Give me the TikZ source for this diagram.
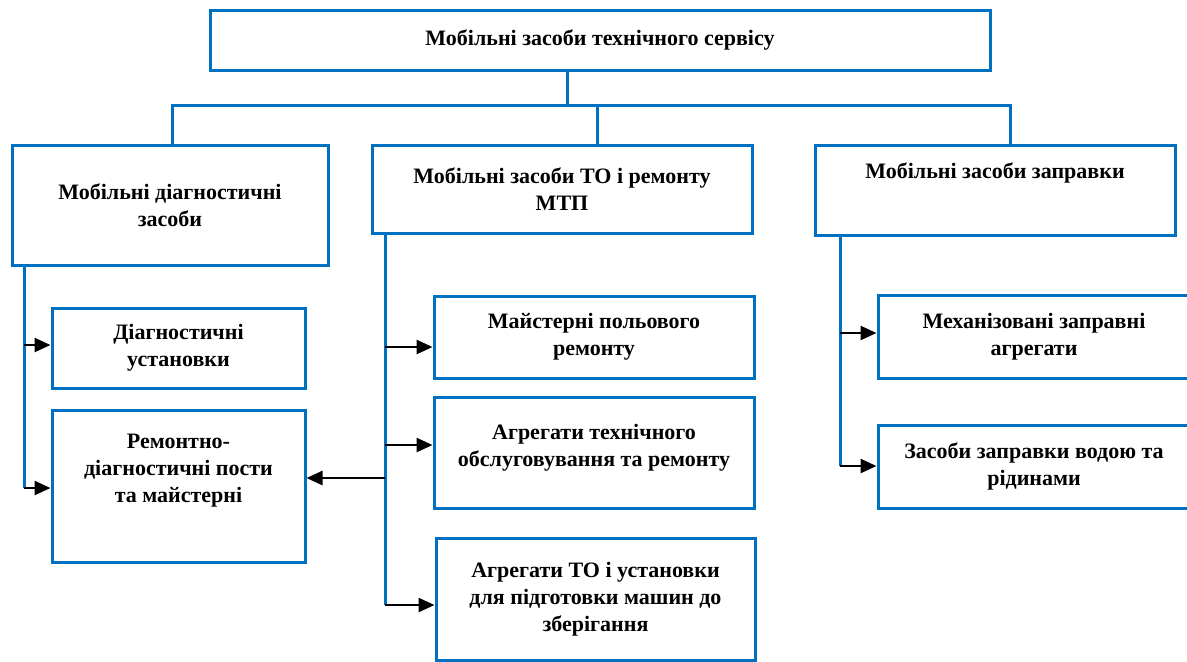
\documentclass[tikz,border=0pt]{standalone}
\usepackage{fontspec}
\setmainfont{Liberation Serif}
\usepackage{xcolor}
\usepackage{tikz}
\usetikzlibrary{arrows.meta,positioning,calc}
\definecolor{boxblue}{RGB}{0,112,192}

\begin{document}
\begin{tikzpicture}[x=0.5pt,y=-0.5pt,font=\fontsize{11}{13.5}\selectfont\bfseries,
   box/.style={draw=boxblue,line width=1.5pt,fill=white,inner sep=0pt,align=center},
   tree/.style={draw=boxblue,line width=1.5pt},
   arr/.style={draw=black,line width=1.3pt,-{Triangle[length=8pt,width=7pt]}}]
  \useasboundingbox (0,0) rectangle (1187,661);
  % top level
  \node[box,minimum width=390pt,minimum height=30pt] (top) at (600,40)
       {Мобільні засоби технічного сервісу};
  % second level
  \node[box,minimum width=158pt,minimum height=60pt] (diag) at (170,205)
       {Мобільні діагностичні\\засоби};
  \node[box,minimum width=190pt,minimum height=44pt] (rem) at (562,189)
       {Мобільні засоби ТО і ремонту\\МТП};
  \node[box,minimum width=180pt,minimum height=45pt] (zapr) at (995,190)
       {Мобільні засоби заправки\\[6pt]\mbox{}};
  % left column
  \node[box,minimum width=126.5pt,minimum height=40pt] (ust) at (178.5,348)
       {Діагностичні\\установки};
  \node[box,minimum width=126.5pt,minimum height=76pt] (posty) at (178.5,486)
       {Ремонтно-\\діагностичні пости\\та майстерні\\[4pt]\mbox{}};
  % middle column
  \node[box,minimum width=160pt,minimum height=41pt] (maist) at (594,337)
       {Майстерні польового\\ремонту};
  \node[box,minimum width=160pt,minimum height=55.5pt] (agr) at (594,452.5)
       {Агрегати технічного\\обслуговування та ремонту\\[-6.5pt]\mbox{}};
  \node[box,minimum width=159.5pt,minimum height=61pt] (zber) at (595.5,599)
       {Агрегати ТО і установки\\для підготовки машин до\\зберігання};
  % right column
  \node[box,minimum width=156pt,minimum height=41.5pt] (mekh) at (1034,336.5)
       {Механізовані заправні\\агрегати};
  \node[box,minimum width=156pt,minimum height=41.5pt] (voda) at (1034,466.5)
       {Засоби заправки водою та\\рідинами};

  % bus under the top box
  \coordinate (bT) at (567,105);
  \coordinate (bL) at (172,105);
  \coordinate (bM) at (597,105);
  \coordinate (bR) at (1010,105);
  \draw[tree] (bT |- top.south) -- (bT);
  \draw[tree] (bL |- diag.north) -- (bL) -- (bR) -- (bR |- zapr.north);
  \draw[tree] (bM) -- (bM |- rem.north);

  % spines
  \coordinate (sL) at (24,488);
  \coordinate (sM) at (385,605);
  \coordinate (sR) at (840,466);
  \draw[tree] (sL |- diag.south) -- (sL);
  \draw[tree] (sM |- rem.south) -- (sM);
  \draw[tree] (sR |- zapr.south) -- (sR);

  % arrows
  \coordinate (l1) at (24,345);
  \coordinate (m1) at (385,347);
  \coordinate (m2) at (385,445);
  \coordinate (m3) at (385,478);
  \coordinate (r1) at (840,333);
  \draw[arr] (l1) -- (l1 -| ust.west);
  \draw[arr] (sL) -- (sL -| posty.west);
  \draw[arr] (m1) -- (m1 -| maist.west);
  \draw[arr] (m2) -- (m2 -| agr.west);
  \draw[arr] (sM) -- (sM -| zber.west);
  \draw[arr] (m3) -- (m3 -| posty.east);
  \draw[arr] (r1) -- (r1 -| mekh.west);
  \draw[arr] (sR) -- (sR -| voda.west);
\end{tikzpicture}
\end{document}
